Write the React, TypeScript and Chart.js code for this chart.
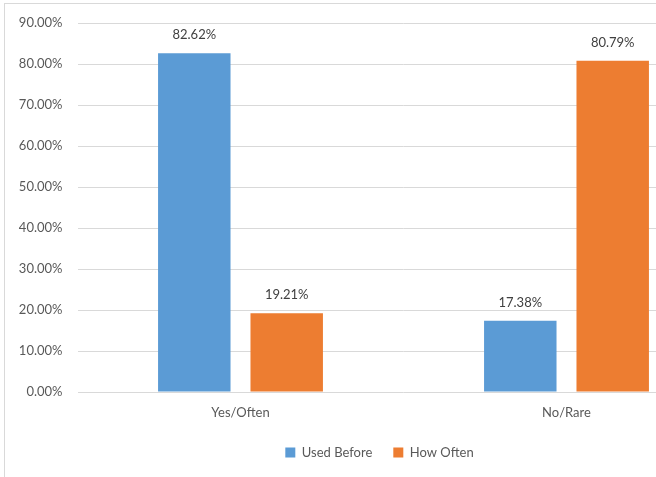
import React, { useEffect, useRef } from "react";
import { Chart, registerables } from "chart.js";

Chart.register(...registerables);

const categories = ["Yes/Often", "No/Rare"];
const usedBefore = [82.62, 17.38];
const howOften = [19.21, 80.79];
const seriesNames = ["Used Before", "How Often"];
const yTicks = [0, 10, 20, 30, 40, 50, 60, 70, 80, 90];

const FONT = "Lato, 'Open Sans', sans-serif";
const TEXT = "#595959";

// Percentage labels above each bar
const valueLabels = {
  id: "valueLabels",
  afterDatasetsDraw(chart: any) {
    const ctx = chart.ctx;
    ctx.save();
    ctx.font = `13px ${FONT}`;
    ctx.fillStyle = "#404040";
    ctx.textAlign = "center";
    ctx.textBaseline = "middle";
    chart.data.datasets.forEach((ds: any, i: number) => {
      const meta = chart.getDatasetMeta(i);
      meta.data.forEach((bar: any, j: number) => {
        ctx.fillText(ds.data[j].toFixed(2) + "%", bar.x, bar.y - 18);
      });
    });
    ctx.restore();
  },
};

// Center the legend on the whole chart box rather than the padded area
const legendShift = {
  id: "legendShift",
  afterLayout(chart: any) {
    const lg = chart.legend;
    if (lg) {
      lg.left += 12.25;
      lg.right += 12.25;
    }
  },
};

export default function App() {
  const ref = useRef<HTMLCanvasElement>(null);

  useEffect(() => {
    if (!ref.current) return;
    const chart = new Chart(ref.current, {
      type: "bar",
      data: {
        labels: categories,
        datasets: [
          {
            label: seriesNames[0],
            data: usedBefore,
            backgroundColor: "#5B9BD5",
            categoryPercentage: 0.567,
            barPercentage: 0.784,
          },
          {
            label: seriesNames[1],
            data: howOften,
            backgroundColor: "#ED7D31",
            categoryPercentage: 0.567,
            barPercentage: 0.784,
          },
        ],
      },
      options: {
        responsive: false,
        animation: false,
        layout: { padding: { top: 19, right: 27.5, left: 0, bottom: 15 } },
        plugins: {
          legend: {
            position: "bottom",
            labels: {
              boxWidth: 10,
              boxHeight: 10,
              padding: 21,
              color: TEXT,
              font: { family: FONT, size: 13 },
            },
          },
          tooltip: { enabled: false },
        },
        scales: {
          x: {
            grid: { display: false, drawTicks: false },
            border: { display: false },
            ticks: { color: TEXT, font: { family: FONT, size: 13 }, padding: 13 },
            afterFit: (s: any) => {
              s.height = 33;
            },
          },
          y: {
            min: 0,
            max: 90,
            afterBuildTicks: (s: any) => {
              s.ticks = yTicks.map((v) => ({ value: v }));
            },
            grid: { color: "#d9d9d9", drawTicks: false },
            border: { display: false },
            ticks: {
              color: TEXT,
              font: { family: FONT, size: 13 },
              padding: 15,
              callback: (v: any) => Number(v).toFixed(2) + "%",
            },
            afterFit: (s: any) => {
              s.width = 72.5;
              s.paddingTop = 8;
              s.paddingBottom = 8;
            },
          },
        },
      },
      plugins: [valueLabels, legendShift],
    });
    return () => chart.destroy();
  }, []);

  return (
    <div
      style={{
        position: "fixed",
        left: 0,
        top: 0,
        width: 656,
        height: 477,
        overflow: "hidden",
        background: "#fff",
      }}
    >
      <div
        style={{
          position: "absolute",
          left: 4,
          top: 3,
          width: 752,
          height: 480,
          border: "1px solid #d9d9d9",
        }}
      >
        <canvas ref={ref} width={752} height={480} style={{ display: "block" }} />
      </div>
    </div>
  );
}
